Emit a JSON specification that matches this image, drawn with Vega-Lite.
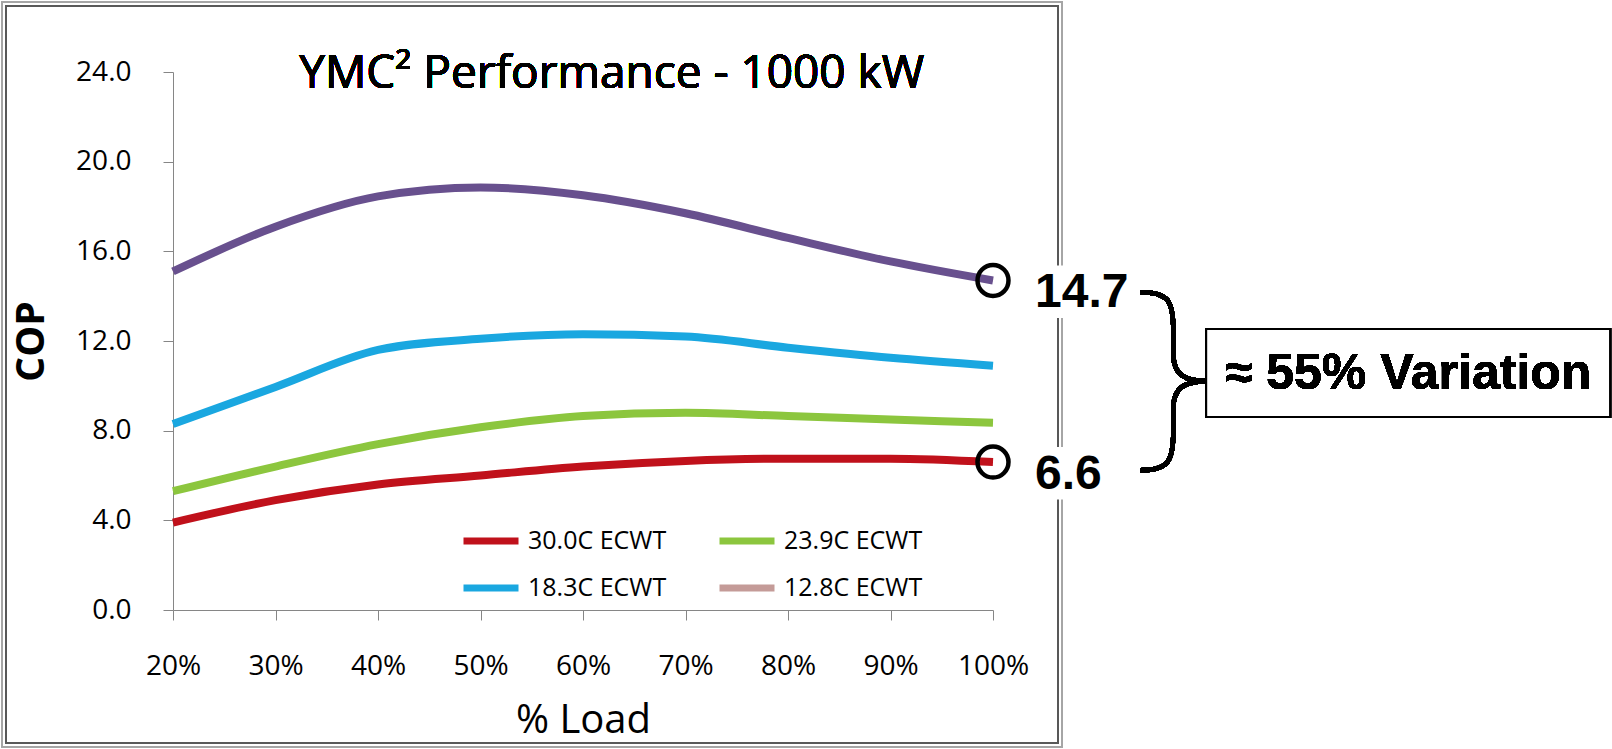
{
  "$schema": "https://vega.github.io/schema/vega-lite/v6.json",
  "autosize": {"type": "none"},
  "padding": {"left": 173, "top": 72, "right": 619, "bottom": 139},
  "width": 820,
  "height": 538,
  "background": "white",
  "data": {
    "values": [
      {"load": 20, "series": "12.8C ECWT", "cop": 15.1},
      {"load": 30, "series": "12.8C ECWT", "cop": 17.1},
      {"load": 40, "series": "12.8C ECWT", "cop": 18.45},
      {"load": 50, "series": "12.8C ECWT", "cop": 18.85},
      {"load": 60, "series": "12.8C ECWT", "cop": 18.5},
      {"load": 70, "series": "12.8C ECWT", "cop": 17.7},
      {"load": 80, "series": "12.8C ECWT", "cop": 16.6},
      {"load": 90, "series": "12.8C ECWT", "cop": 15.55},
      {"load": 100, "series": "12.8C ECWT", "cop": 14.7},
      {"load": 20, "series": "18.3C ECWT", "cop": 8.3},
      {"load": 30, "series": "18.3C ECWT", "cop": 9.95},
      {"load": 40, "series": "18.3C ECWT", "cop": 11.6},
      {"load": 50, "series": "18.3C ECWT", "cop": 12.1},
      {"load": 60, "series": "18.3C ECWT", "cop": 12.3},
      {"load": 70, "series": "18.3C ECWT", "cop": 12.2},
      {"load": 80, "series": "18.3C ECWT", "cop": 11.7},
      {"load": 90, "series": "18.3C ECWT", "cop": 11.25},
      {"load": 100, "series": "18.3C ECWT", "cop": 10.9},
      {"load": 20, "series": "23.9C ECWT", "cop": 5.3},
      {"load": 30, "series": "23.9C ECWT", "cop": 6.4},
      {"load": 40, "series": "23.9C ECWT", "cop": 7.4},
      {"load": 50, "series": "23.9C ECWT", "cop": 8.15},
      {"load": 60, "series": "23.9C ECWT", "cop": 8.65},
      {"load": 70, "series": "23.9C ECWT", "cop": 8.8},
      {"load": 80, "series": "23.9C ECWT", "cop": 8.65},
      {"load": 90, "series": "23.9C ECWT", "cop": 8.5},
      {"load": 100, "series": "23.9C ECWT", "cop": 8.35},
      {"load": 20, "series": "30.0C ECWT", "cop": 3.9},
      {"load": 30, "series": "30.0C ECWT", "cop": 4.9},
      {"load": 40, "series": "30.0C ECWT", "cop": 5.6},
      {"load": 50, "series": "30.0C ECWT", "cop": 6.0},
      {"load": 60, "series": "30.0C ECWT", "cop": 6.4},
      {"load": 70, "series": "30.0C ECWT", "cop": 6.65},
      {"load": 80, "series": "30.0C ECWT", "cop": 6.75},
      {"load": 90, "series": "30.0C ECWT", "cop": 6.75},
      {"load": 100, "series": "30.0C ECWT", "cop": 6.6}
    ]
  },
  "layer": [
    {
      "mark": {"type": "rect", "filled": false, "stroke": "#a6a6a6", "strokeWidth": 1.5, "clip": false},
      "encoding": {
        "x": {"datum": 3.32, "type": "quantitative"},
        "x2": {"datum": 106.73},
        "y": {"datum": 27.12, "type": "quantitative"},
        "y2": {"datum": -6.11}
      }
    },
    {
      "mark": {"type": "rect", "filled": false, "stroke": "#595959", "strokeWidth": 1.5, "clip": false},
      "encoding": {
        "x": {"datum": 3.71, "type": "quantitative"},
        "x2": {"datum": 106.34},
        "y": {"datum": 26.94, "type": "quantitative"},
        "y2": {"datum": -5.93}
      }
    },
    {
      "mark": {"type": "text", "align": "center", "baseline": "middle", "font": "Open Sans", "fontSize": 46, "color": "black", "clip": false},
      "encoding": {
        "x": {"datum": 62.8, "type": "quantitative"},
        "y": {"datum": 23.9, "type": "quantitative"},
        "text": {"value": "YMC² Performance - 1000 kW"}
      }
    },
    {
      "mark": {"type": "line", "interpolate": "monotone", "strokeWidth": 2},
      "encoding": {
        "x": {
          "field": "load", "type": "quantitative",
          "scale": {"domain": [20, 100], "nice": false, "zero": false},
          "axis": {
            "values": [20, 30, 40, 50, 60, 70, 80, 90, 100],
            "labelExpr": "datum.value + '%'",
            "grid": false,
            "domainColor": "#868686",
            "tickColor": "#868686",
            "tickSize": 10,
            "labelPadding": 32,
            "labelFont": "Open Sans",
            "labelFontSize": 28,
            "labelColor": "black",
            "labelFlush": false,
            "title": "% Load",
            "titleFont": "Open Sans",
            "titleFontSize": 40,
            "titleFontWeight": "normal",
            "titleColor": "black",
            "titleX": 410,
            "titleY": 110,
            "titleBaseline": "middle",
            "titleAlign": "center"
          }
        },
        "y": {
          "field": "cop", "type": "quantitative",
          "scale": {"domain": [0, 24], "nice": false},
          "axis": {
            "values": [0, 4, 8, 12, 16, 20, 24],
            "format": ".1f",
            "grid": false,
            "domainColor": "#868686",
            "tickColor": "#868686",
            "tickSize": 10,
            "labelPadding": 32,
            "labelFont": "Open Sans",
            "labelFontSize": 28,
            "labelColor": "black",
            "labelFlush": false,
            "title": "COP",
            "titleFont": "Open Sans",
            "titleFontSize": 39,
            "titleFontWeight": "bold",
            "titleColor": "black",
            "titleX": -142,
            "titleY": 269,
            "titleAngle": -90,
            "titleBaseline": "middle",
            "titleAlign": "center"
          }
        },
        "color": {
          "field": "series", "type": "nominal",
          "scale": {
            "domain": ["30.0C ECWT", "23.9C ECWT", "18.3C ECWT", "12.8C ECWT"],
            "range": ["#c0111b", "#8cc63e", "#1aa7e0", "#c49b98"]
          },
          "legend": {
            "title": null,
            "orient": "none",
            "legendX": 287,
            "legendY": 438,
            "direction": "horizontal",
            "columns": 2,
            "columnPadding": 38,
            "rowPadding": 2,
            "symbolType": "stroke",
            "symbolSize": 3025,
            "symbolStrokeWidth": 7,
            "symbolOpacity": 1,
            "labelFont": "Open Sans",
            "labelFontSize": 25,
            "labelColor": "black",
            "labelOffset": 6,
            "labelLimit": 400
          }
        },
        "detail": {"field": "series"}
      }
    },
    {
      "mark": {"type": "line", "interpolate": "monotone", "strokeWidth": 8},
      "encoding": {
        "x": {"field": "load", "type": "quantitative"},
        "y": {"field": "cop", "type": "quantitative"},
        "stroke": {
          "field": "series", "type": "nominal",
          "scale": {
            "domain": ["30.0C ECWT", "23.9C ECWT", "18.3C ECWT", "12.8C ECWT"],
            "range": ["#c0111b", "#8cc63e", "#1aa7e0", "#68508e"]
          },
          "legend": null
        }
      }
    },
    {
      "transform": [{"filter": "datum.load == 100 && (datum.series == '12.8C ECWT' || datum.series == '30.0C ECWT')"}],
      "mark": {"type": "point", "shape": "M0.74,-0.3H2.8V0.75H0.74Z", "size": 10000, "filled": true, "fill": "white", "opacity": 1, "strokeWidth": 0, "clip": false},
      "encoding": {
        "x": {"field": "load", "type": "quantitative"},
        "y": {"field": "cop", "type": "quantitative"}
      }
    },
    {
      "transform": [{"filter": "datum.load == 100 && (datum.series == '12.8C ECWT' || datum.series == '30.0C ECWT')"}],
      "mark": {"type": "point", "shape": "circle", "size": 960, "filled": false, "stroke": "black", "strokeWidth": 4.5, "opacity": 1, "clip": false},
      "encoding": {
        "x": {"field": "load", "type": "quantitative"},
        "y": {"field": "cop", "type": "quantitative"}
      }
    },
    {
      "transform": [{"filter": "datum.load == 100 && (datum.series == '12.8C ECWT' || datum.series == '30.0C ECWT')"}],
      "mark": {"type": "text", "align": "left", "baseline": "middle", "dx": 42, "dy": 13, "font": "Liberation Sans", "fontSize": 48, "fontWeight": "bold", "color": "black", "clip": false},
      "encoding": {
        "x": {"field": "load", "type": "quantitative"},
        "y": {"field": "cop", "type": "quantitative"},
        "text": {"field": "cop", "type": "quantitative", "format": ".1f"}
      }
    },
    {
      "mark": {"type": "point", "shape": "M-0.37,-1C-0.05,-1 0,-0.9 0,-0.55L0,-0.3C0,-0.08 0.12,0 0.38,0C0.12,0 0,0.08 0,0.3L0,0.55C0,0.9 -0.05,1 -0.37,1", "size": 31684, "filled": false, "stroke": "black", "strokeWidth": 4.5, "opacity": 1, "clip": false},
      "encoding": {
        "x": {"datum": 117.6, "type": "quantitative"},
        "y": {"datum": 10.21, "type": "quantitative"}
      }
    },
    {
      "mark": {"type": "rect", "fill": "white", "stroke": "black", "strokeWidth": 2, "clip": false},
      "encoding": {
        "x": {"datum": 120.8, "type": "quantitative"},
        "x2": {"datum": 160.2},
        "y": {"datum": 12.53, "type": "quantitative"},
        "y2": {"datum": 8.61}
      }
    },
    {
      "mark": {"type": "text", "align": "center", "baseline": "middle", "font": "Liberation Sans", "fontSize": 50, "fontWeight": "bold", "color": "black", "clip": false},
      "encoding": {
        "x": {"datum": 140.5, "type": "quantitative"},
        "y": {"datum": 10.55, "type": "quantitative"},
        "text": {"value": "≈ 55% Variation"}
      }
    }
  ],
  "config": {
    "view": {"stroke": null}
  }
}
